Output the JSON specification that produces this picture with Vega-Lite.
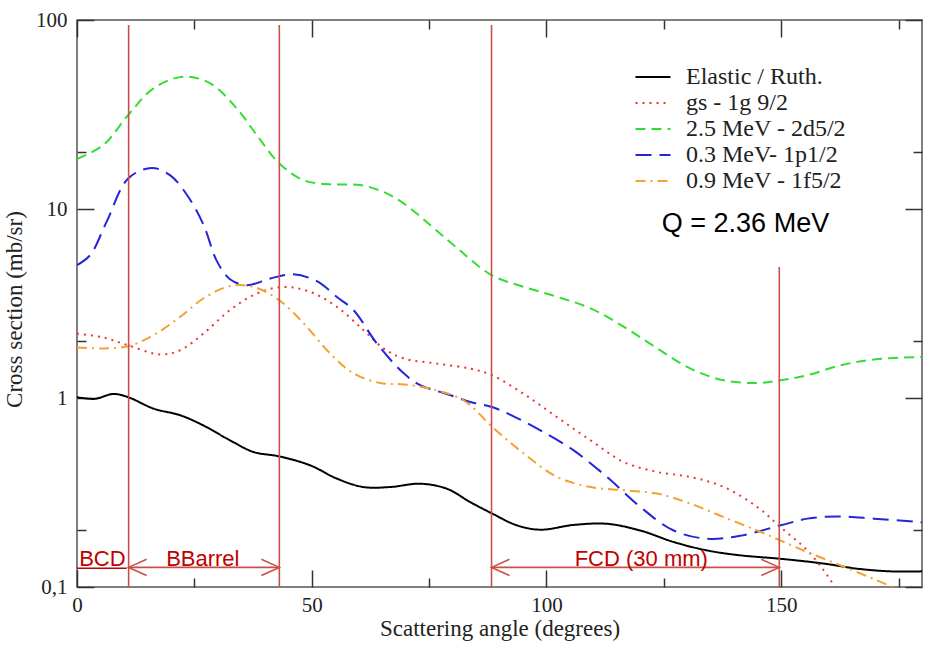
{
  "$schema": "https://vega.github.io/schema/vega-lite/v6.json",
  "width": 845,
  "height": 567,
  "autosize": {"type": "none"},
  "padding": {"left": 77, "top": 20, "right": 10, "bottom": 62},
  "background": "white",
  "config": {
    "view": {"stroke": "#555", "strokeWidth": 1.5},
    "axis": {"domain": false, "grid": false, "tickColor": "#333", "tickWidth": 1.5, "labelFont": "Liberation Serif", "labelFontSize": 21, "labelColor": "#222", "titleFont": "Liberation Serif", "titleFontSize": 23, "titleFontWeight": "normal", "titleColor": "#222", "labelOverlap": false, "labelFlush": false}
  },
  "datasets": {
    "curves": [
      {"series": "Elastic /  Ruth.", "angle": 0, "cs": 1.01},
      {"series": "Elastic /  Ruth.", "angle": 3.8, "cs": 0.99},
      {"series": "Elastic /  Ruth.", "angle": 7.7, "cs": 1.05},
      {"series": "Elastic /  Ruth.", "angle": 10.9, "cs": 1.01},
      {"series": "Elastic /  Ruth.", "angle": 16.3, "cs": 0.879},
      {"series": "Elastic /  Ruth.", "angle": 22, "cs": 0.81},
      {"series": "Elastic /  Ruth.", "angle": 26.9, "cs": 0.716},
      {"series": "Elastic /  Ruth.", "angle": 32.6, "cs": 0.597},
      {"series": "Elastic /  Ruth.", "angle": 37.6, "cs": 0.518},
      {"series": "Elastic /  Ruth.", "angle": 43.1, "cs": 0.491},
      {"series": "Elastic /  Ruth.", "angle": 49.7, "cs": 0.44},
      {"series": "Elastic /  Ruth.", "angle": 55.4, "cs": 0.374},
      {"series": "Elastic /  Ruth.", "angle": 61, "cs": 0.338},
      {"series": "Elastic /  Ruth.", "angle": 66.7, "cs": 0.338},
      {"series": "Elastic /  Ruth.", "angle": 73.1, "cs": 0.352},
      {"series": "Elastic /  Ruth.", "angle": 78.8, "cs": 0.331},
      {"series": "Elastic /  Ruth.", "angle": 83.8, "cs": 0.281},
      {"series": "Elastic /  Ruth.", "angle": 88.4, "cs": 0.245},
      {"series": "Elastic /  Ruth.", "angle": 93.7, "cs": 0.212},
      {"series": "Elastic /  Ruth.", "angle": 98.7, "cs": 0.201},
      {"series": "Elastic /  Ruth.", "angle": 105.8, "cs": 0.213},
      {"series": "Elastic /  Ruth.", "angle": 112.9, "cs": 0.216},
      {"series": "Elastic /  Ruth.", "angle": 120, "cs": 0.199},
      {"series": "Elastic /  Ruth.", "angle": 127.1, "cs": 0.173},
      {"series": "Elastic /  Ruth.", "angle": 134.3, "cs": 0.156},
      {"series": "Elastic /  Ruth.", "angle": 141.4, "cs": 0.147},
      {"series": "Elastic /  Ruth.", "angle": 149.9, "cs": 0.141},
      {"series": "Elastic /  Ruth.", "angle": 159.1, "cs": 0.133},
      {"series": "Elastic /  Ruth.", "angle": 166.2, "cs": 0.125},
      {"series": "Elastic /  Ruth.", "angle": 173.3, "cs": 0.121},
      {"series": "Elastic /  Ruth.", "angle": 180, "cs": 0.121},

      {"series": "gs - 1g 9/2", "angle": 0, "cs": 2.19},
      {"series": "gs - 1g 9/2", "angle": 5.6, "cs": 2.09},
      {"series": "gs - 1g 9/2", "angle": 10.9, "cs": 1.9},
      {"series": "gs - 1g 9/2", "angle": 17.7, "cs": 1.7},
      {"series": "gs - 1g 9/2", "angle": 22, "cs": 1.79},
      {"series": "gs - 1g 9/2", "angle": 26.9, "cs": 2.19},
      {"series": "gs - 1g 9/2", "angle": 32.6, "cs": 2.92},
      {"series": "gs - 1g 9/2", "angle": 38.3, "cs": 3.57},
      {"series": "gs - 1g 9/2", "angle": 44, "cs": 3.87},
      {"series": "gs - 1g 9/2", "angle": 49.7, "cs": 3.64},
      {"series": "gs - 1g 9/2", "angle": 55.4, "cs": 3.03},
      {"series": "gs - 1g 9/2", "angle": 61, "cs": 2.29},
      {"series": "gs - 1g 9/2", "angle": 65.3, "cs": 1.83},
      {"series": "gs - 1g 9/2", "angle": 69.6, "cs": 1.62},
      {"series": "gs - 1g 9/2", "angle": 76.7, "cs": 1.52},
      {"series": "gs - 1g 9/2", "angle": 83.8, "cs": 1.43},
      {"series": "gs - 1g 9/2", "angle": 88.4, "cs": 1.32},
      {"series": "gs - 1g 9/2", "angle": 95.2, "cs": 1.05},
      {"series": "gs - 1g 9/2", "angle": 102.3, "cs": 0.79},
      {"series": "gs - 1g 9/2", "angle": 109.4, "cs": 0.597},
      {"series": "gs - 1g 9/2", "angle": 116.5, "cs": 0.458},
      {"series": "gs - 1g 9/2", "angle": 123.6, "cs": 0.406},
      {"series": "gs - 1g 9/2", "angle": 130.7, "cs": 0.382},
      {"series": "gs - 1g 9/2", "angle": 137.8, "cs": 0.338},
      {"series": "gs - 1g 9/2", "angle": 144.9, "cs": 0.265},
      {"series": "gs - 1g 9/2", "angle": 149.9, "cs": 0.207},
      {"series": "gs - 1g 9/2", "angle": 155.6, "cs": 0.156},
      {"series": "gs - 1g 9/2", "angle": 159.1, "cs": 0.122},
      {"series": "gs - 1g 9/2", "angle": 161, "cs": 0.104},
      {"series": "gs - 1g 9/2", "angle": 162, "cs": 0.095},

      {"series": "2.5 MeV - 2d5/2", "angle": 0, "cs": 18.4},
      {"series": "2.5 MeV - 2d5/2", "angle": 5.6, "cs": 21.8},
      {"series": "2.5 MeV - 2d5/2", "angle": 10.9, "cs": 31.4},
      {"series": "2.5 MeV - 2d5/2", "angle": 16.3, "cs": 43.5},
      {"series": "2.5 MeV - 2d5/2", "angle": 22.7, "cs": 50.1},
      {"series": "2.5 MeV - 2d5/2", "angle": 28.4, "cs": 46.2},
      {"series": "2.5 MeV - 2d5/2", "angle": 34, "cs": 34.1},
      {"series": "2.5 MeV - 2d5/2", "angle": 38.3, "cs": 24.6},
      {"series": "2.5 MeV - 2d5/2", "angle": 43.1, "cs": 17.4},
      {"series": "2.5 MeV - 2d5/2", "angle": 48.3, "cs": 14.2},
      {"series": "2.5 MeV - 2d5/2", "angle": 53.9, "cs": 13.5},
      {"series": "2.5 MeV - 2d5/2", "angle": 60.3, "cs": 13.4},
      {"series": "2.5 MeV - 2d5/2", "angle": 65.3, "cs": 12.3},
      {"series": "2.5 MeV - 2d5/2", "angle": 69.6, "cs": 10.7},
      {"series": "2.5 MeV - 2d5/2", "angle": 75.3, "cs": 8.2},
      {"series": "2.5 MeV - 2d5/2", "angle": 81, "cs": 6.2},
      {"series": "2.5 MeV - 2d5/2", "angle": 88.3, "cs": 4.47},
      {"series": "2.5 MeV - 2d5/2", "angle": 95.2, "cs": 3.87},
      {"series": "2.5 MeV - 2d5/2", "angle": 102.3, "cs": 3.43},
      {"series": "2.5 MeV - 2d5/2", "angle": 109.4, "cs": 2.98},
      {"series": "2.5 MeV - 2d5/2", "angle": 116.5, "cs": 2.38},
      {"series": "2.5 MeV - 2d5/2", "angle": 123.6, "cs": 1.83},
      {"series": "2.5 MeV - 2d5/2", "angle": 130.7, "cs": 1.43},
      {"series": "2.5 MeV - 2d5/2", "angle": 137.8, "cs": 1.24},
      {"series": "2.5 MeV - 2d5/2", "angle": 144.9, "cs": 1.2},
      {"series": "2.5 MeV - 2d5/2", "angle": 149.9, "cs": 1.24},
      {"series": "2.5 MeV - 2d5/2", "angle": 155.6, "cs": 1.32},
      {"series": "2.5 MeV - 2d5/2", "angle": 162.7, "cs": 1.49},
      {"series": "2.5 MeV - 2d5/2", "angle": 169.8, "cs": 1.6},
      {"series": "2.5 MeV - 2d5/2", "angle": 180, "cs": 1.65},

      {"series": "0.3 MeV- 1p1/2", "angle": 0, "cs": 5.05},
      {"series": "0.3 MeV- 1p1/2", "angle": 2.8, "cs": 5.7},
      {"series": "0.3 MeV- 1p1/2", "angle": 6.3, "cs": 8.55},
      {"series": "0.3 MeV- 1p1/2", "angle": 10.9, "cs": 14.5},
      {"series": "0.3 MeV- 1p1/2", "angle": 15.9, "cs": 16.5},
      {"series": "0.3 MeV- 1p1/2", "angle": 19.8, "cs": 15.1},
      {"series": "0.3 MeV- 1p1/2", "angle": 23.4, "cs": 11.9},
      {"series": "0.3 MeV- 1p1/2", "angle": 26.9, "cs": 8.3},
      {"series": "0.3 MeV- 1p1/2", "angle": 29.8, "cs": 5.3},
      {"series": "0.3 MeV- 1p1/2", "angle": 32.6, "cs": 4.25},
      {"series": "0.3 MeV- 1p1/2", "angle": 36.2, "cs": 3.95},
      {"series": "0.3 MeV- 1p1/2", "angle": 41.2, "cs": 4.29},
      {"series": "0.3 MeV- 1p1/2", "angle": 46.1, "cs": 4.51},
      {"series": "0.3 MeV- 1p1/2", "angle": 51.1, "cs": 4.15},
      {"series": "0.3 MeV- 1p1/2", "angle": 55.5, "cs": 3.4},
      {"series": "0.3 MeV- 1p1/2", "angle": 58.9, "cs": 2.92},
      {"series": "0.3 MeV- 1p1/2", "angle": 63.9, "cs": 1.94},
      {"series": "0.3 MeV- 1p1/2", "angle": 69.6, "cs": 1.35},
      {"series": "0.3 MeV- 1p1/2", "angle": 73.1, "cs": 1.17},
      {"series": "0.3 MeV- 1p1/2", "angle": 78.8, "cs": 1.05},
      {"series": "0.3 MeV- 1p1/2", "angle": 83.8, "cs": 0.953},
      {"series": "0.3 MeV- 1p1/2", "angle": 88.4, "cs": 0.896},
      {"series": "0.3 MeV- 1p1/2", "angle": 93, "cs": 0.8},
      {"series": "0.3 MeV- 1p1/2", "angle": 98.7, "cs": 0.674},
      {"series": "0.3 MeV- 1p1/2", "angle": 105.8, "cs": 0.528},
      {"series": "0.3 MeV- 1p1/2", "angle": 112.9, "cs": 0.382},
      {"series": "0.3 MeV- 1p1/2", "angle": 120, "cs": 0.265},
      {"series": "0.3 MeV- 1p1/2", "angle": 127.1, "cs": 0.199},
      {"series": "0.3 MeV- 1p1/2", "angle": 134.3, "cs": 0.18},
      {"series": "0.3 MeV- 1p1/2", "angle": 141.4, "cs": 0.187},
      {"series": "0.3 MeV- 1p1/2", "angle": 149.9, "cs": 0.212},
      {"series": "0.3 MeV- 1p1/2", "angle": 155.6, "cs": 0.23},
      {"series": "0.3 MeV- 1p1/2", "angle": 162, "cs": 0.236},
      {"series": "0.3 MeV- 1p1/2", "angle": 169.8, "cs": 0.23},
      {"series": "0.3 MeV- 1p1/2", "angle": 180, "cs": 0.22},

      {"series": "0.9 MeV - 1f5/2", "angle": 0, "cs": 1.85},
      {"series": "0.9 MeV - 1f5/2", "angle": 5.6, "cs": 1.83},
      {"series": "0.9 MeV - 1f5/2", "angle": 10.9, "cs": 1.88},
      {"series": "0.9 MeV - 1f5/2", "angle": 16.3, "cs": 2.15},
      {"series": "0.9 MeV - 1f5/2", "angle": 22, "cs": 2.69},
      {"series": "0.9 MeV - 1f5/2", "angle": 26.9, "cs": 3.36},
      {"series": "0.9 MeV - 1f5/2", "angle": 32.6, "cs": 3.91},
      {"series": "0.9 MeV - 1f5/2", "angle": 37.6, "cs": 3.87},
      {"series": "0.9 MeV - 1f5/2", "angle": 43.1, "cs": 3.29},
      {"series": "0.9 MeV - 1f5/2", "angle": 48.3, "cs": 2.48},
      {"series": "0.9 MeV - 1f5/2", "angle": 53.9, "cs": 1.72},
      {"series": "0.9 MeV - 1f5/2", "angle": 58.9, "cs": 1.35},
      {"series": "0.9 MeV - 1f5/2", "angle": 64.6, "cs": 1.2},
      {"series": "0.9 MeV - 1f5/2", "angle": 69.6, "cs": 1.18},
      {"series": "0.9 MeV - 1f5/2", "angle": 75.3, "cs": 1.12},
      {"series": "0.9 MeV - 1f5/2", "angle": 82.4, "cs": 0.97},
      {"series": "0.9 MeV - 1f5/2", "angle": 88.8, "cs": 0.69},
      {"series": "0.9 MeV - 1f5/2", "angle": 95.2, "cs": 0.508},
      {"series": "0.9 MeV - 1f5/2", "angle": 102.3, "cs": 0.382},
      {"series": "0.9 MeV - 1f5/2", "angle": 109.4, "cs": 0.338},
      {"series": "0.9 MeV - 1f5/2", "angle": 116.5, "cs": 0.325},
      {"series": "0.9 MeV - 1f5/2", "angle": 123.6, "cs": 0.312},
      {"series": "0.9 MeV - 1f5/2", "angle": 130.7, "cs": 0.276},
      {"series": "0.9 MeV - 1f5/2", "angle": 137.8, "cs": 0.234},
      {"series": "0.9 MeV - 1f5/2", "angle": 144.9, "cs": 0.199},
      {"series": "0.9 MeV - 1f5/2", "angle": 149.9, "cs": 0.176},
      {"series": "0.9 MeV - 1f5/2", "angle": 155.6, "cs": 0.153},
      {"series": "0.9 MeV - 1f5/2", "angle": 162.7, "cs": 0.13},
      {"series": "0.9 MeV - 1f5/2", "angle": 169.8, "cs": 0.11},
      {"series": "0.9 MeV - 1f5/2", "angle": 175, "cs": 0.097}
    ],
    "vlines": [
      {"angle": 11, "cs": 0.1, "cs2": 94},
      {"angle": 43.1, "cs": 0.1, "cs2": 94},
      {"angle": 88.3, "cs": 0.1, "cs2": 94},
      {"angle": 149.6, "cs": 0.1, "cs2": 4.94}
    ],
    "arrows": [
      {"angle": 11, "angle2": 43.1, "cs": 0.127},
      {"angle": 88.3, "angle2": 149.6, "cs": 0.127}
    ],
    "heads": [
      {"angle": 11, "cs": 0.127, "dir": "left"},
      {"angle": 43.1, "cs": 0.127, "dir": "right"},
      {"angle": 88.3, "cs": 0.127, "dir": "left"},
      {"angle": 149.6, "cs": 0.127, "dir": "right"}
    ],
    "labels": [
      {"angle": 5.4, "cs": 0.129, "text": "BCD"},
      {"angle": 26.8, "cs": 0.129, "text": "BBarrel"},
      {"angle": 120.2, "cs": 0.129, "text": "FCD (30 mm)"}
    ],
    "underline": [
      {"angle": 0, "angle2": 10.6, "cs": 0.1255}
    ],
    "qtext": [
      {"angle": 142.4, "cs": 7.57, "text": "Q = 2.36 MeV"}
    ]
  },
  "resolve": {"axis": {"x": "independent", "y": "independent"}},
  "layer": [
    {
      "data": {"name": "curves"},
      "mark": {"type": "line", "clip": true, "strokeWidth": 2, "interpolate": "catmull-rom"},
      "encoding": {
        "x": {"field": "angle", "type": "quantitative",
          "scale": {"domain": [0, 180], "nice": false, "zero": false},
          "axis": {"orient": "bottom", "values": [0, 25, 50, 75, 100, 125, 150, 175],
            "tickSize": {"condition": {"test": "datum.value % 50 === 0", "value": -17}, "value": -9},
            "labelExpr": "datum.value % 50 === 0 ? format(datum.value, 'd') : ''",
            "labelPadding": 24,
            "title": "Scattering angle (degrees)", "titleY": 48, "titleBaseline": "alphabetic"}},
        "y": {"field": "cs", "type": "quantitative",
          "scale": {"type": "log", "domain": [0.1, 100], "nice": false},
          "axis": {"orient": "left", "values": [0.1, 0.2, 1, 2, 10, 20, 100],
            "tickSize": {"condition": {"test": "datum.value == 0.1 || datum.value == 1 || datum.value == 10 || datum.value == 100", "value": -17}, "value": -9},
            "labelExpr": "datum.value == 0.1 ? '0,1' : (datum.value == 1 || datum.value == 10 || datum.value == 100) ? format(datum.value, 'd') : ''",
            "labelPadding": 27,
            "title": "Cross section (mb/sr)", "titleX": -56, "titleY": 289, "titleBaseline": "alphabetic", "titleAngle": -90}},
        "color": {"field": "series", "type": "nominal",
          "scale": {"domain": ["Elastic /  Ruth.", "gs - 1g 9/2", "2.5 MeV - 2d5/2", "0.3 MeV- 1p1/2", "0.9 MeV - 1f5/2"],
            "range": ["#000000", "#ee3333", "#33dd33", "#2424dd", "#f5a030"]},
          "legend": {"orient": "none", "legendX": 564, "legendY": 45, "title": null, "symbolType": "M-2,0L2,0", "symbolSize": 306, "symbolStrokeWidth": 2, "labelFont": "Liberation Serif", "labelFontSize": 24, "labelColor": "#222", "labelOffset": 21, "rowPadding": 2, "labelLimit": 400}},
        "strokeDash": {"field": "series", "type": "nominal",
          "scale": {"domain": ["Elastic /  Ruth.", "gs - 1g 9/2", "2.5 MeV - 2d5/2", "0.3 MeV- 1p1/2", "0.9 MeV - 1f5/2"],
            "range": [[1, 0], [2, 5], [10, 6], [16, 8], [10, 5, 2, 5]]},
          "legend": {"orient": "none", "legendX": 564, "legendY": 45, "title": null, "symbolType": "M-2,0L2,0", "symbolSize": 306, "symbolStrokeWidth": 2, "labelFont": "Liberation Serif", "labelFontSize": 24, "labelColor": "#222", "labelOffset": 21, "rowPadding": 2, "labelLimit": 400}}
      }
    },
    {
      "data": {"name": "vlines"},
      "mark": {"type": "rule", "color": "#c9504a", "strokeWidth": 1.6},
      "encoding": {
        "x": {"field": "angle", "type": "quantitative",
          "scale": {"domain": [0, 180], "nice": false, "zero": false},
          "axis": {"orient": "top", "values": [0, 25, 50, 75, 100, 125, 150, 175],
            "tickSize": {"condition": {"test": "datum.value % 50 === 0", "value": -17}, "value": -9},
            "labels": false, "title": null}},
        "y": {"field": "cs", "type": "quantitative",
          "scale": {"type": "log", "domain": [0.1, 100], "nice": false},
          "axis": {"orient": "right", "values": [0.1, 0.2, 1, 2, 10, 20, 100],
            "tickSize": {"condition": {"test": "datum.value == 0.1 || datum.value == 1 || datum.value == 10 || datum.value == 100", "value": -17}, "value": -9},
            "labels": false, "title": null}},
        "y2": {"field": "cs2"}
      }
    },
    {
      "data": {"name": "arrows"},
      "mark": {"type": "rule", "color": "#c9504a", "strokeWidth": 1.6},
      "encoding": {
        "x": {"field": "angle", "type": "quantitative", "axis": null},
        "x2": {"field": "angle2"},
        "y": {"field": "cs", "type": "quantitative", "axis": null}
      }
    },
    {
      "data": {"name": "heads"},
      "mark": {"type": "point", "filled": false, "color": "#c9504a", "strokeWidth": 1.6, "size": 324, "opacity": 1},
      "encoding": {
        "x": {"field": "angle", "type": "quantitative", "axis": null},
        "y": {"field": "cs", "type": "quantitative", "axis": null},
        "shape": {"field": "dir", "type": "nominal",
          "scale": {"domain": ["left", "right"], "range": ["M2,-0.9L0,0L2,0.9", "M-2,-0.9L0,0L-2,0.9"]},
          "legend": null}
      }
    },
    {
      "data": {"name": "underline"},
      "mark": {"type": "rule", "color": "#c00000", "strokeWidth": 1.5},
      "encoding": {
        "x": {"field": "angle", "type": "quantitative", "axis": null},
        "x2": {"field": "angle2"},
        "y": {"field": "cs", "type": "quantitative", "axis": null}
      }
    },
    {
      "data": {"name": "labels"},
      "mark": {"type": "text", "font": "Liberation Sans", "fontSize": 22, "color": "#c00000", "align": "center", "baseline": "alphabetic"},
      "encoding": {
        "x": {"field": "angle", "type": "quantitative", "axis": null},
        "y": {"field": "cs", "type": "quantitative", "axis": null},
        "text": {"field": "text"}
      }
    },
    {
      "data": {"name": "qtext"},
      "mark": {"type": "text", "font": "Liberation Sans", "fontSize": 27, "color": "#000000", "align": "center", "baseline": "alphabetic"},
      "encoding": {
        "x": {"field": "angle", "type": "quantitative", "axis": null},
        "y": {"field": "cs", "type": "quantitative", "axis": null},
        "text": {"field": "text"}
      }
    }
  ]
}
